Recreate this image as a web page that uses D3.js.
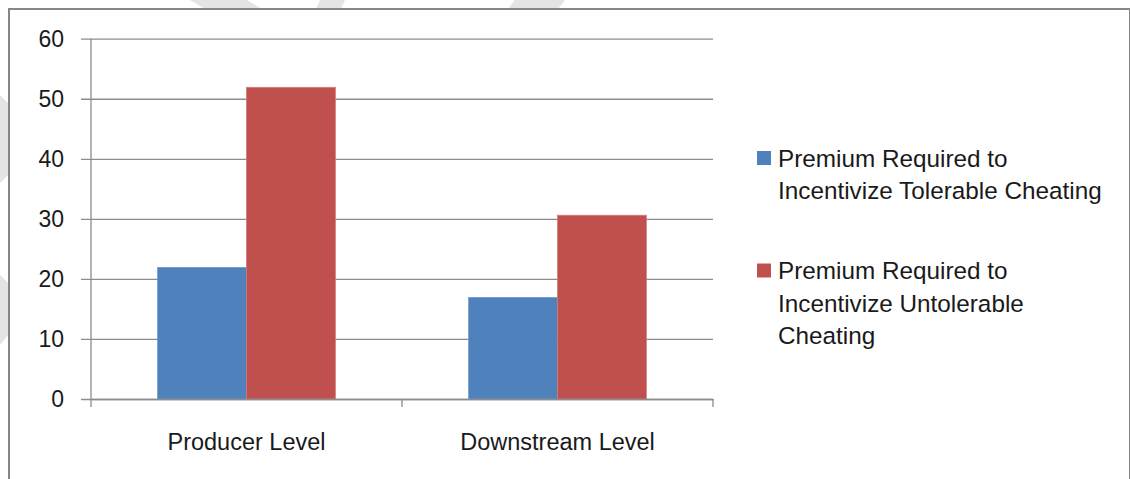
<!DOCTYPE html>
<html>
<head>
<meta charset="utf-8">
<script src="https://cdn.jsdelivr.net/npm/d3@7"></script>
<style>
  html, body { margin: 0; padding: 0; background: #fff; }
  svg { display: block; }
  text { font-family: "Liberation Sans", Arial, sans-serif; fill: #1a1a1a; }
</style>
</head>
<body>
<svg id="chart" width="1130" height="479"></svg>
<script>
const categories = ["Producer Level", "Downstream Level"];
const seriesNames = [
  "Premium Required to Incentivize Tolerable Cheating",
  "Premium Required to Incentivize Untolerable Cheating"
];
const legendLines = [
  ["Premium Required to", "Incentivize Tolerable Cheating"],
  ["Premium Required to", "Incentivize Untolerable", "Cheating"]
];
const tolerable = [21.9, 16.9];
const untolerable = [51.9, 30.6];
const yTicks = [0, 10, 20, 30, 40, 50, 60];
const colors = ["#4F81BD", "#C0504D"];
const edgeColors = ["#6f97c9", "#d27a78"];

const svg = d3.select("#chart");

// faint watermark shapes (decoration)
const wm = svg.append("g").attr("fill", "#e4e4e4");
[
  [[190,0],[247,0],[262,9],[205,9]],
  [[320,0],[345,0],[341,9],[316,9]],
  [[515,0],[565,0],[558,9],[508,9]],
  [[0,95],[8,103],[8,175],[0,183]],
  [[0,275],[8,283],[8,335],[0,345]]
].forEach(p => wm.append("polygon").attr("points", p.map(d => d.join(",")).join(" ")));

// outer border
svg.append("rect")
  .attr("x", 9).attr("y", 9).attr("width", 1121).attr("height", 480)
  .attr("fill", "none").attr("stroke", "#878787").attr("stroke-width", 2);

const pLeft = 91, pRight = 713, pTop = 38.7, pBottom = 399;

const x0 = d3.scaleBand().domain(categories).range([pLeft, pRight]).padding(0);
const x1 = d3.scaleBand().domain([0, 1]).range([0, x0.bandwidth()])
  .paddingInner(0).paddingOuter(0.75);
const y = d3.scaleLinear().domain([0, 60]).range([pBottom, pTop]);

// gridlines + y axis
const yAxis = d3.axisLeft(y).tickValues(yTicks).tickSize(-(pRight - pLeft)).tickPadding(27);
const gy = svg.append("g").attr("transform", `translate(${pLeft},0)`).call(yAxis);
gy.select(".domain").remove();
gy.selectAll(".tick line").attr("stroke", "#8c8c8c").attr("stroke-width", 1.3)
  .attr("x1", -10);
gy.selectAll(".tick text").attr("font-size", 23).attr("fill", "#1a1a1a")
  .attr("font-family", "Liberation Sans, Arial, sans-serif");

// bars
const data = categories.map((c, i) => ({ cat: c, vals: [tolerable[i], untolerable[i]] }));
const groups = svg.append("g").selectAll("g").data(data).join("g")
  .attr("transform", d => `translate(${x0(d.cat)},0)`);
groups.selectAll("rect").data(d => d.vals.map((v, k) => ({ v, k }))).join("rect")
  .attr("x", d => x1(d.k))
  .attr("width", x1.bandwidth())
  .attr("y", d => y(d.v))
  .attr("height", d => y(0) - y(d.v))
  .attr("fill", d => colors[d.k])
  .attr("stroke", d => edgeColors[d.k]).attr("stroke-width", 0.8);

// y axis line
svg.append("line").attr("x1", pLeft).attr("x2", pLeft).attr("y1", pTop).attr("y2", pBottom)
  .attr("stroke", "#8c8c8c").attr("stroke-width", 1.3);

// x axis
const xAxis = d3.axisBottom(x0).tickSize(0).tickPadding(0);
const gx = svg.append("g").attr("transform", `translate(0,${pBottom})`).call(xAxis);
gx.select(".domain").attr("stroke", "#8c8c8c").attr("stroke-width", 1.3);
gx.selectAll(".tick text").attr("font-size", 23.5).attr("fill", "#1a1a1a")
  .attr("dy", 0).attr("y", 51)
  .attr("font-family", "Liberation Sans, Arial, sans-serif");
// boundary tick marks
const bounds = [pLeft].concat(categories.map(c => x0(c) + x0.bandwidth()));
svg.append("g").selectAll("line").data(bounds).join("line")
  .attr("x1", d => d).attr("x2", d => d)
  .attr("y1", pBottom).attr("y2", pBottom + 8)
  .attr("stroke", "#8c8c8c").attr("stroke-width", 1.3);

// legend
const legendTops = [151, 263.5];
const lg = svg.append("g");
seriesNames.forEach((s, i) => {
  const g = lg.append("g").attr("transform", `translate(757,${legendTops[i]})`);
  g.append("rect").attr("width", 14).attr("height", 14).attr("fill", colors[i]);
  const t = g.append("text").attr("x", 21).attr("y", 15.5).attr("font-size", 24.3);
  legendLines[i].forEach((ln, j) => {
    t.append("tspan").attr("x", 21).attr("dy", j === 0 ? 0 : 32.5).text(ln);
  });
});
</script>
</body>
</html>
